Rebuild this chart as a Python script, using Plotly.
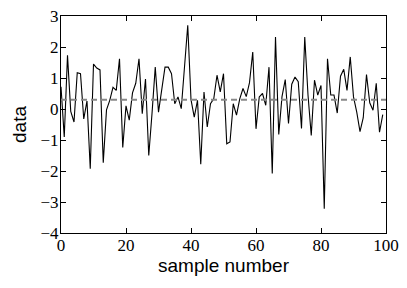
import plotly.graph_objects as go

sample_index = list(range(100))
data_values = [
    0.72, -0.90, 1.73, -0.08, -0.42, 1.17, 1.14, -0.32, 0.26, -1.93,
    1.45, 1.32, 1.26, -1.73, -0.03, 0.28, 0.70, 0.60, 1.62, -1.24,
    0.10, -0.36, 0.52, 0.83, 1.62, -0.15, 0.97, -1.50, -0.15, 1.35,
    -0.10, 0.68, 1.35, 1.35, 1.14, 0.17, 0.39, 0.01, 1.30, 2.70,
    0.30, -0.26, 0.28, -1.78, 0.55, -0.58, 0.17, 0.33, 1.09, 0.55,
    1.14, -1.12, -1.06, 0.17, -0.20, 0.33, 0.66, 0.40, 0.85, 1.84,
    -0.64, 0.39, 0.50, 0.12, 1.35, -2.08, 2.32, -0.82, 0.40, 0.95,
    -0.47, 0.80, 1.03, 0.88, -0.63, 2.32, 0.45, -0.85, 0.93, 0.45,
    0.76, -3.22, 1.62, 0.45, 0.45, -0.13, 1.06, 1.28, 0.60, 1.68,
    0.39, -0.10, -0.73, -0.28, 1.11, 0.20, -0.04, 0.83, -0.75, -0.18,
]
mean_value = 0.30
x_ticks = [0, 20, 40, 60, 80, 100]
y_ticks = [-4, -3, -2, -1, 0, 1, 2, 3]

fig = go.Figure()
fig.add_trace(go.Scatter(
    x=sample_index, y=data_values, mode="lines",
    line=dict(color="black", width=1.1), showlegend=False, hoverinfo="skip"))
fig.add_trace(go.Scatter(
    x=[x_ticks[0], x_ticks[-1]], y=[mean_value, mean_value], mode="lines",
    line=dict(color="#888888", width=2, dash="6px,4px"), showlegend=False, hoverinfo="skip"))

axis_common = dict(
    showgrid=False, zeroline=False, showline=True, linecolor="black", linewidth=1,
    mirror="allticks", ticks="inside", ticklen=5, tickcolor="black", tickwidth=1,
    automargin=False, ticklabeloverflow="allow",
    tickfont=dict(family="Liberation Serif", size=17, color="black"),
)
fig.update_xaxes(range=[0, 100], tickvals=x_ticks, ticktext=[str(v) for v in x_ticks],
                 ticklabelstandoff=-3,
                 title=dict(text="sample number", font=dict(family="Liberation Sans", size=19, color="black"), standoff=0),
                 **axis_common)
fig.update_yaxes(range=[-4, 3], tickvals=y_ticks, ticktext=[("\u2212" + str(-v)) if v < 0 else str(v) for v in y_ticks],
                 ticklabelstandoff=-2,
                 title=dict(text="data", font=dict(family="Liberation Sans", size=19, color="black"), standoff=8),
                 **axis_common)
fig.update_layout(
    width=399, height=280, margin=dict(l=53, r=21, t=8, b=55),
    paper_bgcolor="white", plot_bgcolor="white",
)
fig.write_html("out.html")
